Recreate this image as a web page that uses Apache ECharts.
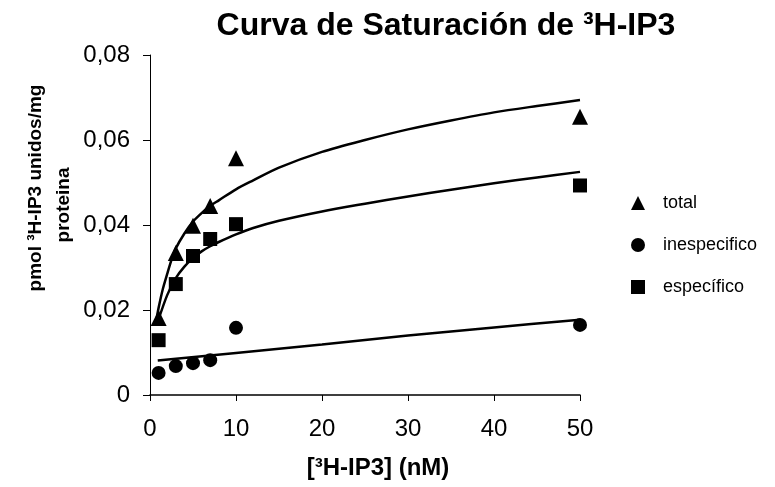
<!DOCTYPE html>
<html>
<head>
    <meta charset="utf-8">
    <title>Curva de Saturación</title>
    <script src="https://cdn.jsdelivr.net/npm/echarts@6/dist/echarts.min.js"></script>
    <style>
    *{margin:0px; padding:0px;}
    body{background:#fff;}
    </style>
</head>
<body>
    <div id="main" style="width: 775px;height:487px;"></div>
    <script type="text/javascript">
        // measured points (x = nM)
        var conc = [1, 3, 5, 7, 10, 50];
        var total = [0.0181, 0.0334, 0.0398, 0.0445, 0.0557, 0.0655];
        var inespecifico = [0.0052, 0.0068, 0.0075, 0.0082, 0.0158, 0.0165];
        var especifico = [0.0129, 0.0261, 0.0327, 0.0367, 0.0402, 0.0493];

        // fitted curves
        var totalFitX = [0.7, 1, 1.5, 2, 2.5, 3, 4, 5, 6, 7, 8, 10, 12, 15, 20, 25, 30, 35, 40, 45, 50];
        var totalFitY = [0.0172, 0.0205, 0.0250, 0.0285, 0.0318, 0.0345, 0.0380, 0.0408, 0.0428, 0.0445, 0.0458, 0.0484, 0.0505, 0.0535, 0.0572, 0.0600, 0.0625, 0.0646, 0.0665, 0.0680, 0.0694];
        var espFitX = [0.9, 2, 3, 4, 5, 6, 7, 8, 10, 12, 15, 20, 25, 30, 35, 40, 45, 50];
        var espFitY = [0.0172, 0.0235, 0.0275, 0.0302, 0.0322, 0.0338, 0.0350, 0.0360, 0.0378, 0.0393, 0.0410, 0.0432, 0.0450, 0.0467, 0.0483, 0.0498, 0.0512, 0.0525];
        var inespFitX = [0.9, 10, 20, 30, 40, 50];
        var inespFitY = [0.0081, 0.0099, 0.0119, 0.0140, 0.0159, 0.0177];

        var names = ['total', 'inespecifico', 'específico'];

        function pairs(xs, ys) {
            return xs.map(function (x, i) { return [x, ys[i]]; });
        }

        var font = '"Liberation Sans", Arial, sans-serif';
        var myChart = echarts.init(document.getElementById('main'));

        var fitStyle = { color: '#000', width: 2.5 };

        var option = {
            animation: false,
            backgroundColor: '#fff',
            title: {
                text: 'Curva de Saturación de ³H-IP3',
                left: 441,
                textAlign: 'center',
                top: 5,
                textStyle: { fontFamily: font, fontWeight: 'bold', fontSize: 32, color: '#000' }
            },
            grid: { left: 150, right: 195, top: 55, bottom: 92 },
            legend: {
                orient: 'vertical',
                left: 626,
                top: 189,
                itemGap: 24,
                itemWidth: 14,
                itemHeight: 14,
                data: [
                    { name: names[0], icon: 'triangle' },
                    { name: names[1], icon: 'circle' },
                    { name: names[2], icon: 'rect' }
                ],
                itemStyle: { opacity: 1 },
                textStyle: { fontFamily: font, fontSize: 18, color: '#000', padding: [0, 0, 0, 13] }
            },
            xAxis: {
                type: 'value',
                min: 0, max: 50, interval: 10,
                name: '[³H-IP3] (nM)',
                nameLocation: 'middle',
                nameGap: 61,
                nameTextStyle: { fontFamily: font, fontWeight: 'bold', fontSize: 24, color: '#000', padding: [0, 0, 0, 26] },
                splitLine: { show: false },
                axisLine: { lineStyle: { color: '#000', width: 1.5 } },
                axisTick: { length: 6, lineStyle: { color: '#000' } },
                axisLabel: { fontFamily: font, fontSize: 24, color: '#000', margin: 22 }
            },
            yAxis: {
                type: 'value',
                min: 0, max: 0.08, interval: 0.02,
                splitLine: { show: false },
                axisLine: { show: true, lineStyle: { color: '#000', width: 1 } },
                axisTick: { show: true, length: 7, lineStyle: { color: '#000' } },
                axisLabel: {
                    fontFamily: font, fontSize: 24, color: '#000', margin: 20,
                    formatter: function (v) { return v === 0 ? '0' : v.toFixed(2).replace('.', ','); }
                }
            },
            graphic: [{
                type: 'text',
                x: 36, y: 188,
                rotation: Math.PI / 2,
                style: {
                    text: 'pmol ³H-IP3 unidos/mg',
                    fontFamily: font, fontWeight: 'bold', fontSize: 19, fill: '#000',
                    textAlign: 'center', textVerticalAlign: 'middle'
                }
            }, {
                type: 'text',
                x: 64, y: 205,
                rotation: Math.PI / 2,
                style: {
                    text: 'proteina',
                    fontFamily: font, fontWeight: 'bold', fontSize: 19, fill: '#000',
                    textAlign: 'center', textVerticalAlign: 'middle'
                }
            }],
            series: [{
                name: 'fit total', type: 'line', smooth: 0.3, showSymbol: false, silent: true,
                data: pairs(totalFitX, totalFitY), lineStyle: fitStyle
            }, {
                name: 'fit esp', type: 'line', smooth: 0.3, showSymbol: false, silent: true,
                data: pairs(espFitX, espFitY), lineStyle: fitStyle
            }, {
                name: 'fit inesp', type: 'line', smooth: 0.3, showSymbol: false, silent: true,
                data: pairs(inespFitX, inespFitY), lineStyle: fitStyle
            }, {
                name: names[0], type: 'scatter', symbol: 'triangle', symbolSize: 16,
                data: pairs(conc, total), itemStyle: { color: '#000', opacity: 1 }
            }, {
                name: names[1], type: 'scatter', symbol: 'circle', symbolSize: 14,
                data: pairs(conc, inespecifico), itemStyle: { color: '#000', opacity: 1 }
            }, {
                name: names[2], type: 'scatter', symbol: 'rect', symbolSize: 14,
                data: pairs(conc, especifico), itemStyle: { color: '#000', opacity: 1 }
            }]
        };

        myChart.setOption(option);
    </script>
</body>
</html>
